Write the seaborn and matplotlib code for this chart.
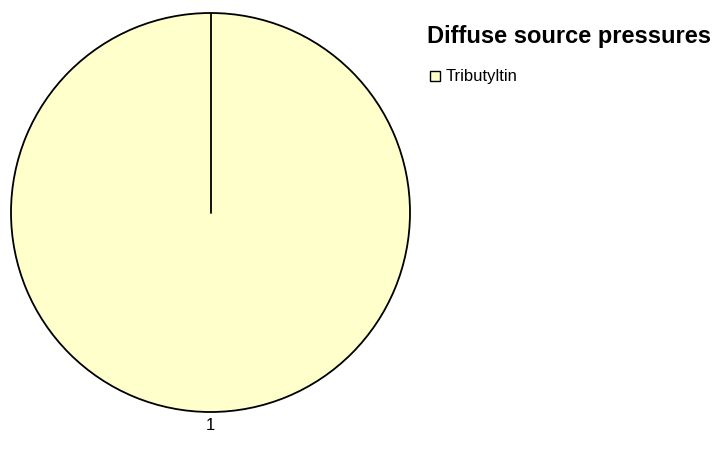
import numpy as np
import matplotlib
matplotlib.use("Agg")
import matplotlib.pyplot as plt
import seaborn as sns
from matplotlib.lines import Line2D

sns.set_theme(style="white")
plt.rcParams["font.family"] = ["Liberation Sans", "DejaVu Sans"]
plt.rcParams["text.color"] = "black"

# Data
categories = ["Tributyltin"]
values = [1]
slice_labels = ["1"]
colors = ["#FFFFCC"]
title = "Diffuse source pressures"

W, H = 718, 449
fig = plt.figure(figsize=(W / 100, H / 100), dpi=100)
fig.patch.set_facecolor("white")

# Pie axes: centre (210.5, 212.5) px, radius 199.5 px
cx, cy, r = 210.5, 212.5, 199.5
ax = fig.add_axes([(cx - r) / W, (H - cy - r) / H, 2 * r / W, 2 * r / H])

start = 90
wedges, texts = ax.pie(
    values,
    labels=slice_labels,
    colors=colors,
    startangle=start,
    counterclock=False,
    labeldistance=1.07,
    wedgeprops=dict(edgecolor="black", linewidth=1.3),
    textprops=dict(fontsize=12, color="black"),
)
for t in texts:
    t.set_ha("center")
    t.set_va("center")

# Slice boundaries (radial edges) from cumulative fractions
fracs = np.cumsum([0] + list(values)) / np.sum(values)
for f in fracs[:-1]:
    ang = np.deg2rad(start - 360 * f)
    ax.plot([0, np.cos(ang)], [0, np.sin(ang)], color="black", linewidth=1.3)

ax.set_xlim(-1, 1)
ax.set_ylim(-1, 1)
ax.set_aspect("equal")
ax.axis("off")

# Legend
fig.text(427 / W, 1 - 37 / H, title, fontsize=17, fontweight="bold",
         color="black", ha="left", va="center")
handles = [
    Line2D([0], [0], marker="s", linestyle="none", markersize=7,
           markerfacecolor=c, markeredgecolor="black", markeredgewidth=1)
    for c in colors
]
leg = fig.legend(handles, categories, loc="center left",
                 bbox_to_anchor=(430 / W, 1 - 77 / H), frameon=False,
                 fontsize=12, handlelength=0.6, handletextpad=0.35,
                 borderpad=0, borderaxespad=0)
for t in leg.get_texts():
    t.set_color("black")

fig.savefig("out.png", dpi=100, facecolor="white")
